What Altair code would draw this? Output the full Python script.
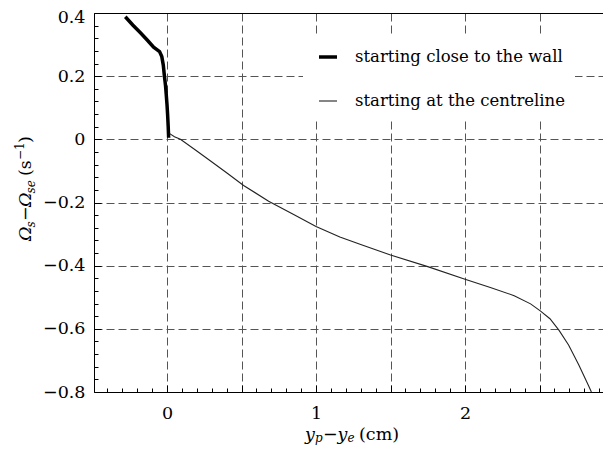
import altair as alt
import pandas as pd

series_names = ["starting close to the wall", "starting at the centreline"]

wall_x = [-0.28, -0.23, -0.18, -0.13, -0.09, -0.07, -0.05, -0.035, -0.025,
          -0.018, -0.01, -0.005, 0.0, 0.004, 0.008, 0.011]
wall_y = [0.388, 0.362, 0.338, 0.313, 0.292, 0.285, 0.278, 0.262, 0.235,
          0.203, 0.17, 0.141, 0.11, 0.078, 0.04, 0.005]

centre_x = [0.018, 0.05, 0.09, 0.2, 0.29, 0.4, 0.514, 0.682, 0.85, 1.0, 1.16,
            1.3, 1.5, 1.75, 2.0, 2.17, 2.33, 2.44, 2.505, 2.57, 2.63, 2.695,
            2.763, 2.83, 2.848]
centre_y = [0.018, 0.008, 0.0, -0.037, -0.068, -0.106, -0.146, -0.196, -0.238,
            -0.276, -0.309, -0.333, -0.366, -0.403, -0.443, -0.469, -0.495,
            -0.521, -0.543, -0.568, -0.604, -0.651, -0.714, -0.781, -0.8]

x_major = [0, 0.5, 1, 1.5, 2, 2.5]
x_minor = [round(-0.4 + 0.1 * k, 2) for k in range(34)]
y_major = [-0.8, -0.6, -0.4, -0.2, 0, 0.2, 0.4]
y_minor = [round(-0.8 + 0.04 * k, 2) for k in range(31)]

rows = []
for i, (a, b) in enumerate(zip(wall_x, wall_y)):
    rows.append({"x": a, "y": b, "series": series_names[0], "order": i})
for i, (a, b) in enumerate(zip(centre_x, centre_y)):
    rows.append({"x": a, "y": b, "series": series_names[1], "order": i})
df = pd.DataFrame(rows)

FONT = "DejaVu Serif"
xscale = alt.Scale(domain=[-0.49, 2.926], nice=False, zero=False)
yscale = alt.Scale(domain=[-0.8, 0.4], nice=False, zero=False)

leg = alt.Legend(
    title=None, orient="none", legendX=209, legendY=24, fillColor="white",
    padding=9, symbolOffset=5, symbolType="stroke", symbolSize=324,
    labelOffset=16, rowPadding=25, labelFontSize=16.5, labelFont=FONT,
    labelColor="black", labelLimit=600,
    labelExpr="datum.label + '\u00a0\u00a0\u00a0\u00a0'",
)

lines = alt.Chart(df).mark_line(clip=True).encode(
    x=alt.X("x:Q", scale=xscale, axis=alt.Axis(
        orient="bottom", values=x_major, grid=True, gridDash=[8, 4],
        gridColor="#555555", gridWidth=1, ticks=False, labels=False,
        domain=True, domainColor="black", domainWidth=1, title=None)),
    y=alt.Y("y:Q", scale=yscale, axis=alt.Axis(
        orient="left", values=y_major[1:-1], grid=True, gridDash=[8, 4],
        gridColor="#555555", gridWidth=1, ticks=False, labels=False,
        domain=True, domainColor="black", domainWidth=1, title=None)),
    color=alt.Color("series:N", scale=alt.Scale(domain=series_names,
                    range=["#000000", "#222222"]), legend=leg),
    strokeWidth=alt.StrokeWidth("series:N", scale=alt.Scale(
        domain=series_names, range=[3.5, 1.1]), legend=leg),
    order="order:Q",
)

major = alt.Chart(df).mark_point(opacity=0).encode(
    x=alt.X("x:Q", scale=xscale, axis=alt.Axis(
        orient="bottom", values=x_major, grid=False, tickSize=7, offset=-7,
        tickColor="black", tickWidth=1, domain=False, labelFont=FONT,
        labelFontSize=17.5, labelColor="black", labelPadding=12,
        labelExpr="datum.value % 1 == 0 ? format(datum.value, 'd') : ''",
        title=None)),
    y=alt.Y("y:Q", scale=yscale, axis=alt.Axis(
        orient="left", values=y_major, grid=False, tickSize=7, offset=-7,
        tickColor="black", tickWidth=1, domain=False, labelFont=FONT,
        labelFontSize=17.5, labelColor="black", labelPadding=9,
        labelOffset={"condition": {"test": "datum.value > 0.35", "value": 4},
                     "value": 0},
        labelExpr="datum.value == 0 ? '0' : format(datum.value, '.1f')",
        title=None)),
)

minor = alt.Chart(df).mark_point(opacity=0).encode(
    x=alt.X("x:Q", scale=xscale, axis=alt.Axis(
        orient="bottom", values=x_minor, grid=False, tickSize=4, offset=-4,
        tickColor="black", tickWidth=1, domain=False, labels=False,
        title=None)),
    y=alt.Y("y:Q", scale=yscale, axis=alt.Axis(
        orient="left", values=y_minor, grid=False, tickSize=4, offset=-4,
        tickColor="black", tickWidth=1, domain=False, labels=False,
        title=None)),
)

frame_top = alt.Chart(df).mark_point(opacity=0).encode(
    x=alt.X("x:Q", scale=xscale, axis=alt.Axis(
        orient="top", grid=False, ticks=False, labels=False, domain=True,
        domainColor="black", domainWidth=1, title=None)),
    y=alt.Y("y:Q", scale=yscale, axis=None),
)

one = alt.Data(values=[{"k": 1}])


def txt(s, x, y, size=17.5, italic=False, angle=0):
    kw = dict(text=s, font=FONT, fontSize=size, align="left",
              baseline="alphabetic", color="black", angle=angle)
    if italic:
        kw["fontStyle"] = "italic"
    return alt.Chart(one).mark_text(**kw).encode(x=alt.value(x), y=alt.value(y))


title_layers = [
    # x title: y_p - y_e (cm)
    txt("y", 211, 427, italic=True),
    txt("p", 221, 429, size=12, italic=True),
    txt("\u2212", 229, 427),
    txt("y", 243.5, 427, italic=True),
    txt("e", 253.5, 429, size=12, italic=True),
    txt("(cm)", 265, 427),
    # y title: Omega_s - Omega_se (s^-1), rotated
    txt("\u03a9", -63, 228, italic=True, angle=270),
    txt("s", -59, 214.5, size=12, italic=True, angle=270),
    txt("\u2212", -63, 208, angle=270),
    txt("\u03a9", -63, 194, italic=True, angle=270),
    txt("se", -59, 180.5, size=12, italic=True, angle=270),
    txt("(s", -63, 163, angle=270),
    txt("\u22121", -70, 147, size=12, angle=270),
    txt(")", -63, 130, angle=270),
]

chart = alt.layer(lines, major, minor, frame_top, *title_layers).resolve_axis(
    x="independent", y="independent"
).properties(
    width=509, height=379,
    autosize=alt.AutoSizeParams(type="none"),
    padding={"left": 86, "top": 5, "right": 0, "bottom": 53},
    background="white",
).configure_view(stroke=None)

chart.save("out.html", embed_options={"renderer": "svg", "actions": False})
